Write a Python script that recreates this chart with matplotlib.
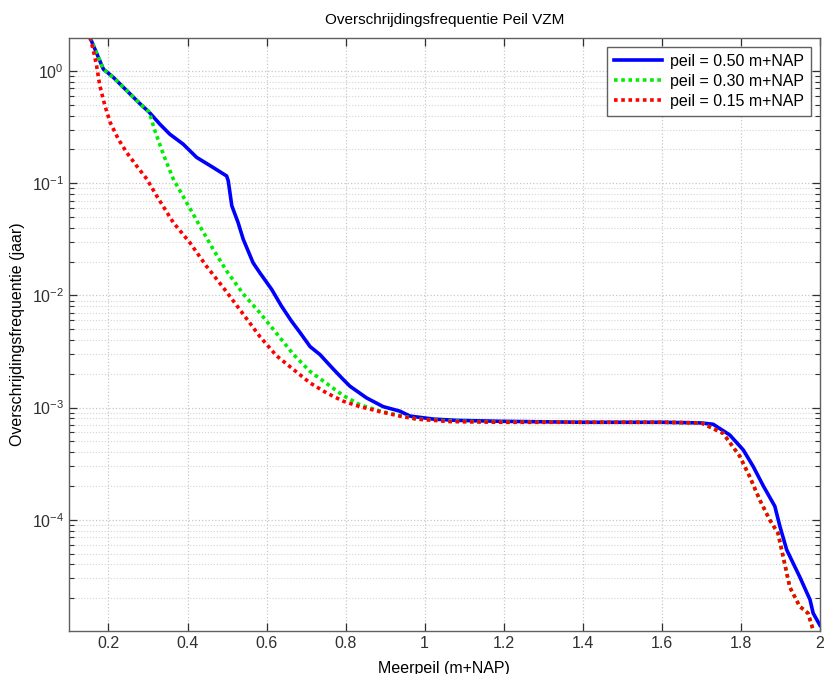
import numpy as np
import matplotlib
matplotlib.use("Agg")
import matplotlib.pyplot as plt
from matplotlib.ticker import LogLocator, FixedLocator, FuncFormatter, NullFormatter

plt.rcParams['font.family'] = ['Liberation Sans', 'DejaVu Sans']

# peil = 0.50 m+NAP
x_050 = [0.153, 0.187, 0.212, 0.246, 0.280, 0.303, 0.330, 0.355, 0.389, 0.423,
         0.465, 0.499, 0.503, 0.512, 0.528, 0.541, 0.566, 0.583, 0.613, 0.638,
         0.663, 0.684, 0.710, 0.735, 0.769, 0.794, 0.811, 0.853, 0.895, 0.937,
         0.963, 1.022, 1.080, 1.190, 1.400, 1.600, 1.700, 1.730, 1.772, 1.806,
         1.831, 1.857, 1.886, 1.899, 1.916, 1.949, 1.975, 1.983, 2.000]
y_050 = [2.0, 1.04, 0.88, 0.67, 0.51, 0.43, 0.336, 0.274, 0.223, 0.17,
         0.138, 0.116, 0.105, 0.063, 0.0445, 0.0316, 0.0195, 0.0159, 0.0113, 0.008,
         0.0059, 0.0047, 0.0035, 0.00297, 0.0022, 0.00178, 0.00155, 0.00122, 0.00102, 0.00093,
         0.00084, 0.00079, 0.00077, 0.000755, 0.00074, 0.00074, 0.00073, 0.00071, 0.00057, 0.00042,
         0.0003, 0.0002, 0.000132, 8.7e-5, 5.4e-5, 3.1e-5, 1.94e-5, 1.47e-5, 1.15e-5]

# peil = 0.30 m+NAP
x_030 = [0.153, 0.187, 0.212, 0.246, 0.280, 0.303, 0.318, 0.339, 0.364, 0.398,
         0.431, 0.465, 0.499, 0.541, 0.583, 0.625, 0.667, 0.710, 0.752, 0.794,
         0.836, 0.887, 0.937, 0.980, 1.064, 1.200, 1.400, 1.600, 1.700, 1.755,
         1.797, 1.822, 1.848, 1.873, 1.894, 1.907, 1.924, 1.949, 1.970, 1.983, 1.995]
y_030 = [2.0, 1.04, 0.88, 0.67, 0.51, 0.43, 0.29, 0.18, 0.109, 0.067,
         0.0416, 0.0257, 0.0165, 0.0103, 0.007, 0.0046, 0.0030, 0.0021, 0.00164, 0.00128,
         0.00106, 0.00093, 0.00085, 0.00079, 0.00076, 0.00074, 0.00074, 0.00074, 0.00073, 0.00059,
         0.00037, 0.000244, 0.00015, 1.0e-4, 7.6e-5, 4.7e-5, 2.5e-5, 1.69e-5, 1.47e-5, 1.04e-5, 7e-6]

# peil = 0.15 m+NAP
x_015 = [0.153, 0.161, 0.170, 0.178, 0.191, 0.204, 0.225, 0.246, 0.271, 0.297,
         0.322, 0.364, 0.406, 0.448, 0.490, 0.541, 0.583, 0.625, 0.667, 0.710,
         0.752, 0.794, 0.836, 0.887, 0.937, 0.980, 1.064, 1.200, 1.400, 1.600,
         1.700, 1.755, 1.797, 1.822, 1.848, 1.873, 1.894, 1.907, 1.924, 1.949,
         1.970, 1.983, 1.995]
y_015 = [2.0, 1.57, 1.11, 0.74, 0.49, 0.35, 0.247, 0.188, 0.143, 0.109,
         0.077, 0.0446, 0.0295, 0.0182, 0.0118, 0.0068, 0.0043, 0.0029, 0.0022, 0.00166,
         0.00135, 0.00114, 0.00102, 0.00092, 0.00084, 0.00079, 0.00075, 0.00074, 0.00074, 0.00074,
         0.00073, 0.00059, 0.00037, 0.000244, 0.00015, 1.0e-4, 7.6e-5, 4.7e-5, 2.5e-5, 1.69e-5,
         1.47e-5, 1.04e-5, 7e-6]

labels = ['peil = 0.50 m+NAP', 'peil = 0.30 m+NAP', 'peil = 0.15 m+NAP']
x_ticks = [0.2, 0.4, 0.6, 0.8, 1.0, 1.2, 1.4, 1.6, 1.8, 2.0]

fig = plt.figure(figsize=(8.24, 6.74), dpi=100, facecolor='white')
ax = fig.add_axes([0.0837, 0.0638, 0.9113, 0.8798])

ax.semilogy(x_050, y_050, color='#0000ff', lw=2.6, ls='-', label=labels[0])
ax.semilogy(x_030, y_030, color='#00ee00', lw=2.6, ls=(0, (1, 1)), label=labels[1])
ax.semilogy(x_015, y_015, color='#ff0000', lw=2.6, ls=(0, (1, 1)), label=labels[2])

ax.set_xlim(0.1, 2.0)
ax.set_ylim(1.02e-5, 1.97)

ax.xaxis.set_major_locator(FixedLocator(x_ticks))
ax.xaxis.set_major_formatter(FuncFormatter(lambda v, p: ('%g' % round(v, 2))))
ax.yaxis.set_major_locator(LogLocator(base=10, numticks=12))
ax.yaxis.set_minor_locator(LogLocator(base=10, subs=np.arange(2, 10), numticks=12))
ax.yaxis.set_minor_formatter(NullFormatter())

ax.grid(True, which='major', axis='both', color='#c8c8c8', ls=':', lw=0.9)
ax.grid(True, which='minor', axis='y', color='#d4d4d4', ls=':', lw=0.8)

ax.tick_params(which='both', direction='in', top=True, right=True,
               labelsize=11.5, colors='#303030')
ax.tick_params(which='major', length=6, width=0.9)
ax.tick_params(which='minor', length=3.5, width=0.8)
for s in ax.spines.values():
    s.set_color('#606060')
    s.set_linewidth(1.0)

ax.set_title('Overschrijdingsfrequentie Peil VZM', fontsize=11, pad=10)
ax.set_xlabel('Meerpeil (m+NAP)', fontsize=11.5, labelpad=7)
ax.set_ylabel('Overschrijdingsfrequentie (jaar)', fontsize=11.5, labelpad=5)

leg = ax.legend(loc='upper right', fontsize=11.5, fancybox=False, framealpha=1,
                edgecolor='#606060', handlelength=3.0, handletextpad=0.5,
                borderaxespad=0.55, labelspacing=0.3, borderpad=0.45)
leg.get_frame().set_linewidth(1.0)

plt.savefig('out.png', dpi=100)
